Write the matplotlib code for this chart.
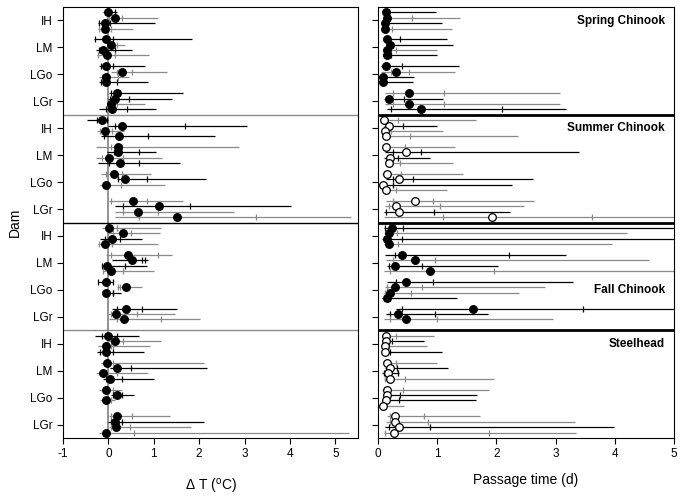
import numpy as np
import matplotlib
matplotlib.use("Agg")
import matplotlib.pyplot as plt

plt.rcParams['font.family'] = ['Liberation Sans', 'DejaVu Sans']
plt.rcParams['mathtext.default'] = 'regular'
plt.rcParams['axes.unicode_minus'] = False

species = ["Spring Chinook", "Summer Chinook", "Fall Chinook", "Steelhead"]
species_label_y = [2.6, 22.5, 52.5, 62.5]
dams = ["IH", "LM", "LGo", "LGr"]
open_marker = [False, True, False, True]   # right panel only
nan = np.nan

# delta T, 4 rows per dam (IH, LM, LGo, LGr), one line per species
dt_lo = [-0.12, 0.0, -0.23, -0.23,  -0.32, -0.02, -0.28, -0.26,  -0.2, 0.05, -0.2, -0.2,  0.02, 0.0, 0.0, -0.2,
         -0.47, 0.0, -0.24, -0.17,  -0.27, -0.02, -0.27, -0.22,  -0.17, 0.2, -0.18, nan,  0.02, 0.15, 0.15, 0.15,
         -0.13, -0.01, -0.18, -0.23,  -0.06, 0.07, -0.13, -0.12,  -0.23, 0.2, -0.08, nan,  0.07, 0.0, 0.02, nan,
         -0.3, 0.0, -0.22, -0.25,  -0.17, 0.03, -0.28, -0.12,  -0.2, 0.05, -0.18, nan,  0.02, 0.0, 0.02, -0.2]
dt_t1 = [-0.08, 0.02, -0.2, -0.2,  -0.3, 0.0, -0.2, -0.22,  -0.16, 0.2, -0.15, -0.16,  0.05, 0.04, 0.03, -0.06,
         -0.25, 0.15, -0.18, -0.1,  0.06, 0.13, -0.14, 0.02,  -0.05, 0.22, -0.1, nan,  0.05, 0.33, 0.33, 0.67,
         0.19, 0.11, -0.08, -0.2,  0.06, 0.74, -0.13, -0.11,  -0.23, 0.22, 0.1, nan,  0.2, 0.05, 0.18, nan,
         -0.15, 0.05, 0.05, -0.18,  -0.05, 0.23, -0.05, -0.05,  -0.1, 0.1, -0.1, nan,  0.05, 0.05, 0.05, 0.0]
dt_med = [0.0, 0.14, -0.07, -0.07,  -0.06, 0.06, -0.12, -0.03,  -0.05, 0.29, -0.05, -0.05,  0.2, 0.15, 0.05, 0.09,
          -0.15, 0.31, -0.07, 0.23,  0.21, 0.21, 0.02, 0.25,  0.12, 0.37, -0.05, nan,  0.54, 1.11, 0.65, 1.51,
          0.01, 0.32, 0.09, -0.08,  0.43, 0.53, -0.02, 0.06,  -0.06, 0.38, -0.05, nan,  0.38, 0.16, 0.35, nan,
          0.0, 0.15, -0.06, -0.06,  -0.04, 0.2, -0.12, 0.04,  -0.05, 0.2, -0.05, nan,  0.2, 0.15, 0.17, -0.05]
dt_t2 = [0.14, 0.29, 0.04, 0.05,  0.1, 0.18, 0.15, 0.14,  0.1, 0.52, 0.22, 0.2,  0.26, 0.46, 0.2, 0.4,
         -0.02, 1.68, 0.08, 0.87,  0.3, 0.68, 0.33, 0.68,  0.3, 0.85, 0.27, nan,  0.86, 1.79, 1.1, 3.25,
         0.19, 0.49, 0.26, 0.09,  1.1, 0.8, 0.36, 0.33,  0.1, 0.25, 0.1, nan,  0.73, 0.63, 1.16, nan,
         0.18, 0.33, 0.1, 0.1,  0.1, 0.5, 0.18, 0.3,  0.1, 0.3, 0.05, nan,  0.52, 0.31, 0.48, 0.57]
dt_hi = [0.18, 1.10, 1.02, 0.54,  1.84, 0.36, 0.51, 0.9,  0.8, 1.30, 0.45, 0.87,  1.65, 1.41, 0.81, 1.04,
         0.0, 3.05, 0.35, 2.35,  2.87, 1.06, 1.18, 1.57,  0.93, 2.15, 1.24, nan,  1.65, 4.02, 2.77, 5.34,
         1.15, 1.13, 0.75, 1.1,  1.41, 0.87, 0.86, 1.0,  0.1, 0.73, 0.28, nan,  1.51, 1.46, 2.02, nan,
         0.68, 1.15, 0.91, 0.78,  2.11, 2.18, 0.87, 1.0,  0.29, 0.56, 0.14, nan,  1.35, 2.11, 1.83, 5.31]
dt_gray = [0, 1, 0, 1,  0, 1, 0, 1,  0, 1, 1, 0,  0, 0, 1, 0,
           0, 0, 1, 0,  1, 0, 1, 0,  1, 0, 1, 0,  1, 0, 1, 1,
           1, 1, 0, 1,  1, 0, 0, 1,  0, 1, 0, 0,  0, 1, 1, 0,
           0, 1, 1, 0,  1, 0, 1, 0,  1, 0, 1, 0,  1, 0, 1, 1]

# passage time (d)
pt_lo = [0.1, 0.1, 0.07, 0.07,  0.1, 0.14, 0.1, 0.1,  0.05, 0.05, 0.05, 0.05,  0.12, 0.1, 0.12, 0.15,
         0.07, 0.1, 0.07, 0.07,  0.1, 0.12, 0.1, 0.12,  0.07, 0.14, 0.07, 0.1,  0.14, 0.12, 0.1, 0.1,
         0.1, 0.1, 0.07, 0.1,  0.12, 0.14, 0.15, 0.1,  0.16, 0.12, 0.1, 0.07,  0.3, 0.14, 0.1, nan,
         0.07, 0.1, 0.07, 0.07,  0.1, 0.12, 0.07, 0.1,  0.07, 0.1, 0.07, 0.07,  0.16, 0.14, 0.12, 0.1]
pt_t1 = [0.12, 0.19, 0.1, 0.1,  0.13, 0.2, 0.12, 0.12,  0.1, 0.22, 0.06, 0.06,  0.25, 0.14, 0.25, 0.22,
         0.09, 0.13, 0.1, 0.1,  0.11, 0.25, 0.15, 0.14,  0.1, 0.25, 0.1, 0.12,  0.25, 0.18, 0.14, 1.09,
         0.12, 0.2, 0.1, 0.13,  0.28, 0.25, 0.18, 0.2,  0.3, 0.15, 0.12, 0.1,  0.4, 0.2, 0.2, nan,
         0.1, 0.12, 0.1, 0.1,  0.12, 0.15, 0.1, 0.12,  0.1, 0.12, 0.1, 0.08,  0.2, 0.2, 0.18, 0.12]
pt_med = [0.13, 0.16, 0.12, 0.12,  0.16, 0.2, 0.15, 0.15,  0.13, 0.3, 0.08, 0.08,  0.53, 0.19, 0.53, 0.73,
          0.1, 0.19, 0.12, 0.13,  0.13, 0.48, 0.21, 0.18,  0.16, 0.36, 0.08, 0.13,  0.63, 0.3, 0.36, 1.92,
          0.23, 0.18, 0.15, 0.19,  0.4, 0.63, 0.29, 0.88,  0.47, 0.28, 0.2, 0.16,  1.61, 0.33, 0.48, nan,
          0.13, 0.13, 0.12, 0.12,  0.15, 0.21, 0.17, 0.21,  0.15, 0.15, 0.14, 0.08,  0.29, 0.29, 0.36, 0.27]
pt_t2 = [0.19, 0.57, 0.17, 0.23,  0.37, 0.25, 0.3, 0.22,  0.41, 0.52, 0.1, 0.1,  1.11, 0.44, 1.11, 2.1,
         0.33, 0.42, 0.22, 0.54,  0.46, 0.73, 0.33, 0.38,  0.39, 0.59, 0.26, 0.3,  0.93, 1.05, 0.95, 3.61,
         0.42, 0.32, 0.41, 0.33,  2.22, 0.96, 0.75, 1.96,  0.93, 0.75, 0.56, 0.2,  3.47, 0.96, 0.99, nan,
         0.3, 0.23, 0.18, 0.2,  0.3, 0.32, 0.33, 0.46,  0.43, 0.38, 0.36, 0.1,  0.77, 0.84, 0.88, 1.88]
pt_hi = [0.98, 1.39, 1.08, 1.25,  1.17, 1.26, 0.99, 1.0,  1.36, 1.3, 0.6, 0.59,  3.07, 1.09, 3.07, 3.18,
         1.66, 0.99, 1.1, 2.36,  1.3, 3.4, 0.88, 1.27,  1.43, 2.62, 2.27, 1.16,  2.64, 2.47, 2.23, 5.5,
         5.5, 4.21, 5.5, 3.95,  3.17, 4.57, 2.03, 5.5,  3.29, 2.82, 2.38, 1.33,  5.5, 1.85, 2.96, nan,
         0.95, 0.77, 0.82, 1.08,  1.0, 1.18, 0.35, 1.96,  1.88, 1.67, 1.66, 0.44,  1.72, 3.32, 3.99, 3.34]
pt_gray = [0, 1, 0, 1,  0, 0, 1, 0,  0, 1, 0, 0,  1, 0, 1, 0,
           1, 0, 1, 1,  1, 0, 0, 1,  1, 0, 0, 1,  1, 1, 0, 1,
           0, 1, 0, 1,  0, 1, 0, 1,  0, 1, 1, 0,  0, 0, 1, 0,
           1, 0, 1, 0,  1, 0, 0, 1,  1, 0, 0, 1,  1, 1, 0, 1]

GRAY = '#8a8a8a'
n_rows = len(dt_med)
ypos = np.array([s * 20 + d * 5 + 1 + r
                 for s in range(4) for d in range(4) for r in range(4)])
dam_ticks = [s * 20 + d * 5 + 2.5 for s in range(4) for d in range(4)]


def draw_rows(ax, lo, t1, med, t2, hi, gray, hollow=None):
    for i in range(n_rows):
        if np.isnan(med[i]):
            continue
        c = GRAY if gray[i] else 'black'
        y = ypos[i]
        ax.hlines(y, lo[i], hi[i], color=c, lw=0.9, zorder=2)
        ax.plot([t1[i], t2[i]], [y, y], ls='none', marker='|', ms=4.5,
                mew=0.9, color=c, zorder=2)
        face = 'black'
        if hollow is not None and hollow[i // 16]:
            face = 'white'
        ax.plot(med[i], y, 'o', ms=5.5, mfc=face, mec='black', mew=0.9, zorder=3)


fig = plt.figure(figsize=(6.83, 4.97), dpi=100)
ax1 = fig.add_axes([63 / 683, 1 - 438 / 497, 295 / 683, 431 / 497])
ax2 = fig.add_axes([378 / 683, 1 - 438 / 497, 296 / 683, 431 / 497])

ax1.axvline(0, color=GRAY, lw=1.3, zorder=1)
draw_rows(ax1, dt_lo, dt_t1, dt_med, dt_t2, dt_hi, dt_gray)
draw_rows(ax2, pt_lo, pt_t1, pt_med, pt_t2, pt_hi, pt_gray, hollow=open_marker)

for yb, c in zip([20, 40, 60], [GRAY, 'black', GRAY]):
    ax1.axhline(yb, color=c, lw=1.0, zorder=1)
    ax2.axhline(yb, color='black', lw=2.0, zorder=4)

for name, ty in zip(species, species_label_y):
    ax2.text(4.85, ty, name, ha='right', va='center',
             fontsize=8.5, fontweight='bold', zorder=5)

for ax in (ax1, ax2):
    ax.set_ylim(80, 0)
    ax.set_yticks(dam_ticks)
    ax.tick_params(direction='out', length=4, width=0.8, labelsize=8.5)
    for sp in ax.spines.values():
        sp.set_linewidth(0.8)

ax1.set_yticklabels(dams * 4)
ax2.set_yticklabels([])

ax1.set_xlim(-1, 5.5)
ax1.set_xticks(range(-1, 6))
ax2.set_xlim(0, 5)
ax2.set_xticks(range(0, 6))

ax1.set_ylabel('Dam', fontsize=10, labelpad=6)
ax1.set_xlabel(r'$\Delta$ T ($^{o}$C)', fontsize=10, labelpad=12)
ax2.set_xlabel('Passage time (d)', fontsize=10, labelpad=9)

fig.savefig('out.png', dpi=100)
